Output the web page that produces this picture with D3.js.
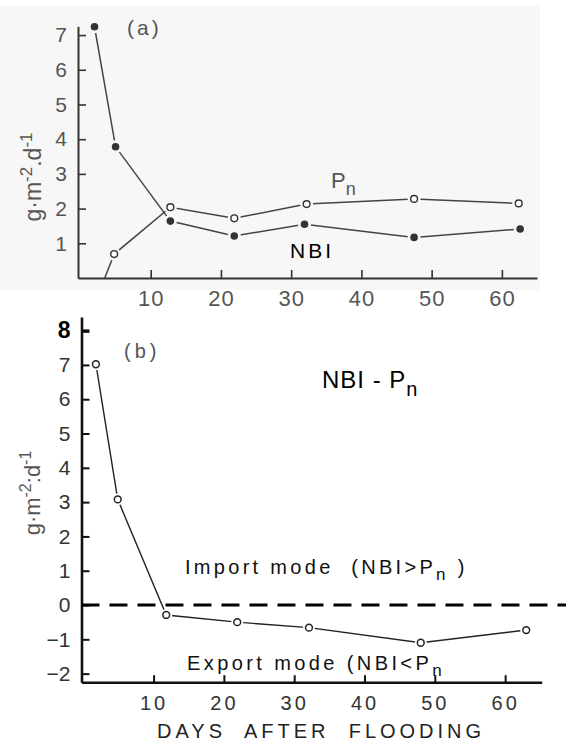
<!DOCTYPE html>
<html>
<head>
<meta charset="utf-8">
<script src="https://cdn.jsdelivr.net/npm/d3@7"></script>
<style>
  body { margin: 0; background: #fff; }
  svg { display: block; font-family: "Liberation Sans", Arial, sans-serif; }
</style>
</head>
<body>
<div id="chart"></div>
<script>
// panel (a): daily rates, g m-2 d-1
const nbiDays = [2, 5, 12.8, 21.9, 31.9, 47.5, 62.6];
const nbiValues = [7.24, 3.78, 1.64, 1.21, 1.55, 1.17, 1.41];
const pnDays = [2, 4.8, 12.8, 21.9, 32.2, 47.5, 62.4];
const pnValues = [-0.75, 0.69, 2.04, 1.72, 2.13, 2.28, 2.15];
const yTicksA = [1, 2, 3, 4, 5, 6, 7];

// panel (b): NBI - Pn
const diffDays = [1.8, 4.9, 11.8, 21.9, 32.1, 48, 63];
const diffValues = [7.02, 3.08, -0.29, -0.5, -0.66, -1.1, -0.73];
const yTicksB = [-2, -1, 0, 1, 2, 3, 4, 5, 6, 7, 8];
const xTicks = [10, 20, 30, 40, 50, 60];

const width = 566, height = 742;
const svg = d3.select('#chart').append('svg')
    .attr('width', width)
    .attr('height', height);

// faint scan tone behind panel (a)
svg.append('rect')
    .attr('x', 0).attr('y', 6).attr('width', 540).attr('height', 284)
    .attr('fill', '#f7f7f7');

// ---------- panel (a)
const xa = d3.scaleLinear().domain([-0.35, 65]).range([78, 537]);
const ya = d3.scaleLinear().domain([0, 7.25]).range([278, 26.4]);

const gA = svg.append('g');

gA.append('clipPath').attr('id', 'clipA')
    .append('rect')
    .attr('x', xa.range()[0]).attr('y', 0)
    .attr('width', xa.range()[1] - xa.range()[0])
    .attr('height', ya(0));

const axisA_y = gA.append('g')
    .attr('transform', `translate(${xa.range()[0]},0)`)
    .call(d3.axisLeft(ya).tickValues(yTicksA).tickSize(-8).tickSizeOuter(0).tickPadding(11));
const axisA_x = gA.append('g')
    .attr('transform', `translate(0,${ya(0)})`)
    .call(d3.axisBottom(xa).tickValues(xTicks).tickSize(-8).tickSizeOuter(0).tickPadding(12));

[axisA_y, axisA_x].forEach(ax => {
    ax.select('.domain').attr('stroke', '#333').attr('stroke-width', 2);
    ax.selectAll('.tick line').attr('stroke', '#333').attr('stroke-width', 1.6);
    ax.selectAll('.tick text').attr('fill', '#555').attr('font-size', 22)
        .attr('letter-spacing', 1)
        .attr('font-family', '"Liberation Sans", Arial, sans-serif');
});
axisA_y.selectAll('.tick text').attr('font-size', 21).attr('letter-spacing', 0);

const lineA = d3.line().x(d => xa(d[0])).y(d => ya(d[1]));
const nbiPts = nbiDays.map((d, i) => [d, nbiValues[i]]);
const pnPts = pnDays.map((d, i) => [d, pnValues[i]]);

[nbiPts, pnPts].forEach(pts => {
    gA.append('path')
        .datum(pts)
        .attr('clip-path', 'url(#clipA)')
        .attr('fill', 'none')
        .attr('stroke', '#444')
        .attr('stroke-width', 1.5)
        .attr('d', lineA);
});

// knock-out halos so the lines stop short of the markers
const pnVisible = pnPts.filter(d => d[1] >= 0);
gA.selectAll('.haloA')
    .data(nbiPts.concat(pnVisible))
    .join('circle')
    .attr('class', 'haloA')
    .attr('cx', d => xa(d[0])).attr('cy', d => ya(d[1]))
    .attr('r', 6.5)
    .attr('fill', '#f7f7f7');

gA.selectAll('.nbi')
    .data(nbiPts)
    .join('circle')
    .attr('class', 'nbi')
    .attr('cx', d => xa(d[0])).attr('cy', d => ya(d[1]))
    .attr('r', 3.8)
    .attr('fill', '#333');

gA.selectAll('.pn')
    .data(pnVisible)
    .join('circle')
    .attr('class', 'pn')
    .attr('cx', d => xa(d[0])).attr('cy', d => ya(d[1]))
    .attr('r', 3.4)
    .attr('fill', '#fff')
    .attr('stroke', '#333')
    .attr('stroke-width', 1.4);

gA.append('text')
    .attr('x', 127).attr('y', 35)
    .attr('font-size', 21).attr('fill', '#555')
    .attr('letter-spacing', 3)
    .text('(a)');

const pnLabel = gA.append('text')
    .attr('x', 331).attr('y', 188)
    .attr('font-size', 22).attr('fill', '#555');
pnLabel.append('tspan').text('P');
pnLabel.append('tspan').attr('dy', 7).attr('font-size', 18).text('n');

gA.append('text')
    .attr('x', 290).attr('y', 258)
    .attr('font-size', 21).attr('fill', '#000')
    .attr('letter-spacing', 3)
    .text('NBI');

const yLabelA = gA.append('text')
    .attr('transform', 'translate(41,177) rotate(-90)')
    .attr('text-anchor', 'middle')
    .attr('font-size', 23).attr('fill', '#555');
yLabelA.append('tspan').text('g·m');
yLabelA.append('tspan').attr('dy', -9).attr('font-size', 17).text('-2');
yLabelA.append('tspan').attr('dy', 9).text('.d');
yLabelA.append('tspan').attr('dy', -9).attr('font-size', 17).text('-1');

// ---------- panel (b)
const xb = d3.scaleLinear().domain([-0.25, 65.2]).range([81.5, 541.7]);
const yb = d3.scaleLinear().domain([-2.25, 8.4]).range([682.2, 316.9]);

const gB = svg.append('g');

const axisB_y = gB.append('g')
    .attr('transform', `translate(${xb.range()[0]},0)`)
    .call(d3.axisLeft(yb).tickValues(yTicksB).tickSize(-8).tickSizeOuter(0).tickPadding(11));
const axisB_x = gB.append('g')
    .attr('transform', `translate(0,${yb.range()[0]})`)
    .call(d3.axisBottom(xb).tickValues(xTicks).tickSize(-7).tickSizeOuter(0).tickPadding(14));

[axisB_y, axisB_x].forEach(ax => {
    ax.select('.domain').attr('stroke', '#111').attr('stroke-width', 2.6);
    ax.selectAll('.tick line').attr('stroke', '#111').attr('stroke-width', 2);
    ax.selectAll('.tick text').attr('fill', '#333').attr('font-size', 21)
        .attr('font-family', '"Liberation Sans", Arial, sans-serif');
});
axisB_x.selectAll('.tick text').attr('font-size', 20).attr('letter-spacing', 3);
axisB_y.selectAll('.tick')
    .filter(d => d === 8)
    .call(t => t.select('text').attr('fill', '#000').attr('font-weight', 'bold').attr('font-size', 23))
    .call(t => t.select('line').attr('stroke-width', 3.5));

// zero line
gB.append('line')
    .attr('x1', xb.range()[0]).attr('x2', width)
    .attr('y1', yb(0)).attr('y2', yb(0))
    .attr('stroke', '#000')
    .attr('stroke-width', 3)
    .attr('stroke-dasharray', '18 10');

const lineB = d3.line().x(d => xb(d[0])).y(d => yb(d[1]));
const diffPts = diffDays.map((d, i) => [d, diffValues[i]]);

gB.append('path')
    .datum(diffPts)
    .attr('fill', 'none')
    .attr('stroke', '#222')
    .attr('stroke-width', 1.4)
    .attr('d', lineB);

gB.selectAll('.haloB')
    .data(diffPts)
    .join('circle')
    .attr('class', 'haloB')
    .attr('cx', d => xb(d[0])).attr('cy', d => yb(d[1]))
    .attr('r', 6)
    .attr('fill', '#fff');

gB.selectAll('.diff')
    .data(diffPts)
    .join('circle')
    .attr('class', 'diff')
    .attr('cx', d => xb(d[0])).attr('cy', d => yb(d[1]))
    .attr('r', 3.4)
    .attr('fill', '#fff')
    .attr('stroke', '#222')
    .attr('stroke-width', 1.5);

gB.append('text')
    .attr('x', 124).attr('y', 358)
    .attr('font-size', 20).attr('fill', '#555')
    .attr('letter-spacing', 4)
    .text('(b)');

const diffLabel = gB.append('text')
    .attr('x', 322).attr('y', 388)
    .attr('font-size', 24).attr('fill', '#000')
    .attr('letter-spacing', 1)
    .attr('xml:space', 'preserve');
diffLabel.append('tspan').text('NBI - P');
diffLabel.append('tspan').attr('dy', 8).attr('font-size', 20).text('n');

const importLabel = gB.append('text')
    .attr('x', 185).attr('y', 574)
    .attr('font-size', 20).attr('fill', '#111')
    .attr('letter-spacing', 3.3)
    .attr('xml:space', 'preserve');
importLabel.append('tspan').text('Import mode  (NBI>P');
importLabel.append('tspan').attr('dy', 6).attr('font-size', 17).text('n');
importLabel.append('tspan').attr('dy', -6).text(' )');

const exportLabel = gB.append('text')
    .attr('x', 187).attr('y', 670)
    .attr('font-size', 20).attr('fill', '#111')
    .attr('letter-spacing', 3.4)
    .attr('xml:space', 'preserve');
exportLabel.append('tspan').text('Export mode (NBI<P');
exportLabel.append('tspan').attr('dy', 6).attr('font-size', 17).text('n');

const yLabelB = gB.append('text')
    .attr('transform', 'translate(40,493) rotate(-90)')
    .attr('text-anchor', 'middle')
    .attr('font-size', 22).attr('fill', '#555');
yLabelB.append('tspan').text('g·m');
yLabelB.append('tspan').attr('dy', -9).attr('font-size', 16).text('-2');
yLabelB.append('tspan').attr('dy', 9).text(':d');
yLabelB.append('tspan').attr('dy', -9).attr('font-size', 16).text('-1');

gB.append('text')
    .attr('x', 157).attr('y', 738)
    .attr('font-size', 20).attr('fill', '#222')
    .attr('letter-spacing', 4)
    .attr('xml:space', 'preserve')
    .text('DAYS  AFTER  FLOODING');
</script>
</body>
</html>
